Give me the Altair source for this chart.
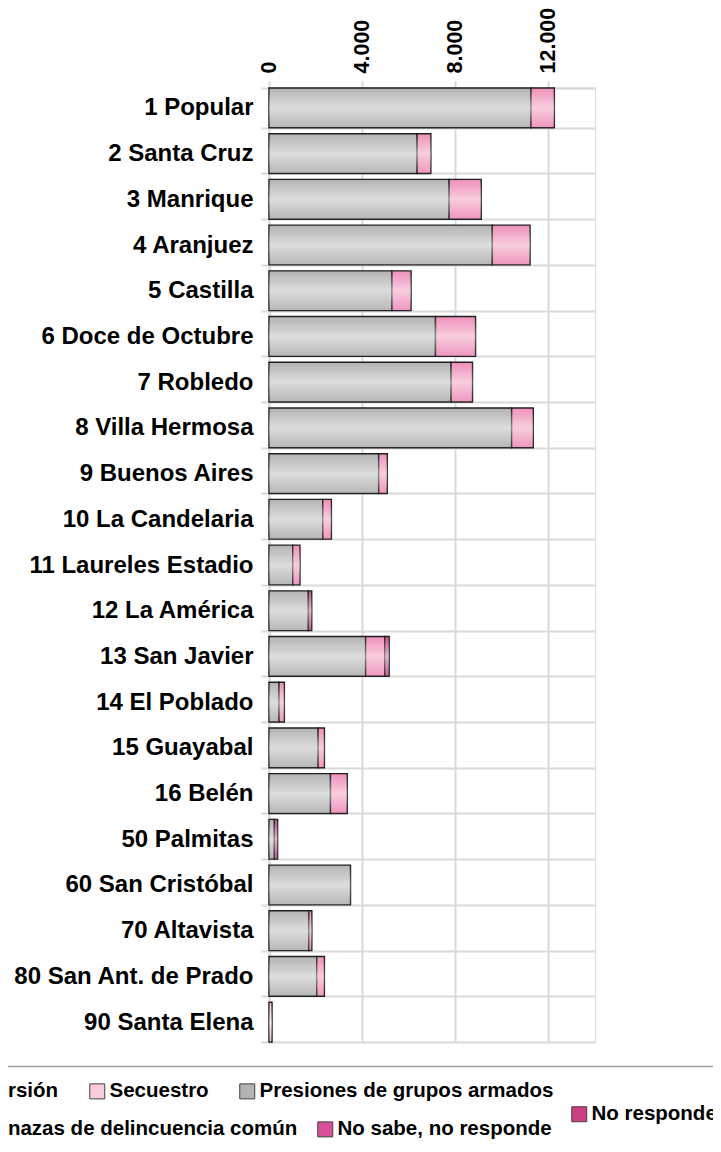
import altair as alt
import pandas as pd

comunas = ["1 Popular", "2 Santa Cruz", "3 Manrique", "4 Aranjuez", "5 Castilla",
           "6 Doce de Octubre", "7 Robledo", "8 Villa Hermosa", "9 Buenos Aires",
           "10 La Candelaria", "11 Laureles Estadio", "12 La América", "13 San Javier",
           "14 El Poblado", "15 Guayabal", "16 Belén", "50 Palmitas", "60 San Cristóbal",
           "70 Altavista", "80 San Ant. de Prado", "90 Santa Elena"]

series = ["Extorsión", "Secuestro", "Presiones de grupos armados",
          "Amenazas de delincuencia común", "No sabe, no responde", "No responde"]

extorsion = [0, 0, 0, 0, 0, 0, 0, 0, 0, 0, 0, 0, 0, 0, 0, 0, 0, 0, 0, 0, 0]
secuestro = [0, 0, 0, 0, 0, 0, 0, 0, 0, 0, 0, 0, 0, 0, 0, 0, 0, 0, 0, 0, 130]
presiones = [11250, 6360, 7735, 9590, 5280, 7150, 7820, 10420, 4710, 2310, 1020,
             1690, 4150, 430, 2110, 2640, 230, 3500, 1710, 2050, 0]
amenazas = [1005, 590, 1380, 1620, 820, 1720, 920, 930, 370, 370, 310,
            0, 820, 230, 270, 720, 0, 0, 130, 330, 0]
no_sabe = [0, 0, 0, 0, 0, 0, 0, 0, 0, 0, 0, 145, 190, 0, 0, 0, 140, 0, 0, 0, 0]
no_responde = [0, 0, 0, 0, 0, 0, 0, 0, 0, 0, 0, 0, 0, 0, 0, 0, 0, 0, 0, 0, 0]

colores = ["#8c8c8c", "#f8cbdd", "#b3b3b3", "#ef90b9", "#d9509a", "#cc3f80"]

valores = [extorsion, secuestro, presiones, amenazas, no_sabe, no_responde]
rows = []
for si, (s, vals) in enumerate(zip(series, valores)):
    for c, v in zip(comunas, vals):
        rows.append({"comuna": c, "serie": s, "orden": si, "valor": v})
df = pd.DataFrame(rows)

FONT = "Liberation Sans"
GRID = "#d9d9d9"

base = alt.Chart(df).transform_filter("datum.valor > 0").transform_stack(
    stack="valor", groupby=["comuna"], as_=["x0", "x1"],
    sort=[alt.SortField("orden", order="ascending")])

y_enc = alt.Y("comuna:N", sort=comunas,
              scale=alt.Scale(paddingInner=0.13, paddingOuter=0),
              axis=alt.Axis(title=None, grid=True, tickBand="extent",
                            gridColor=GRID, gridWidth=2,
                            ticks=True, tickSize=8, tickColor=GRID, tickWidth=2,
                            domainColor=GRID, domainWidth=2,
                            labelFont=FONT, labelFontSize=24, labelFontWeight="bold",
                            labelColor="black", labelPadding=8, labelLimit=400))
x_enc = alt.X("x0:Q", scale=alt.Scale(domain=[0, 14000], nice=False, zero=True),
              axis=alt.Axis(orient="top", title=None, values=[0, 4000, 8000, 12000],
                            labelExpr="replace(format(datum.value, ','), ',', '.')",
                            labelAngle=-90, grid=True, gridColor=GRID, gridWidth=2,
                            ticks=True, tickSize=7, tickColor=GRID, tickWidth=2,
                            domainColor=GRID, domainWidth=2,
                            labelFont=FONT, labelFontSize=21.5, labelFontWeight="bold",
                            labelColor="black", labelPadding=8))
x2_enc = alt.X2("x1:Q")

legend_common = dict(title=None, orient="none", direction="horizontal",
                     symbolType="square", symbolSize=225,
                     symbolStrokeColor="#404040", symbolStrokeWidth=1,
                     labelFont=FONT, labelFontSize=20.5, labelFontWeight="bold",
                     labelColor="black", labelLimit=600, labelOffset=2, padding=0)


def layer_for(idx, legend):
    names = [series[i] for i in idx]
    cols = [colores[i] for i in idx]
    return base.transform_filter(
        alt.FieldOneOfPredicate(field="serie", oneOf=names)
    ).mark_bar(stroke="#1e1e1e", strokeWidth=1.4).encode(
        x=x_enc, x2=x2_enc, y=y_enc,
        color=alt.Color("serie:N", scale=alt.Scale(domain=names, range=cols),
                        legend=legend))


layer_a = layer_for([0, 1, 2], alt.Legend(legendX=-328, legendY=993,
                                          columnPadding=28, **legend_common))
layer_b = layer_for([3, 4], alt.Legend(legendX=-328, legendY=1031,
                                       columnPadding=17, **legend_common))
layer_c = layer_for([5], alt.Legend(legendX=300, legendY=1016, **legend_common))

gloss = base.mark_bar(
    strokeWidth=0,
    fill=alt.LinearGradient(
        gradient="linear", x1=0, x2=0, y1=0, y2=1,
        stops=[alt.GradientStop(offset=0, color="rgba(255,255,255,0)"),
               alt.GradientStop(offset=0.5, color="rgba(255,255,255,0.55)"),
               alt.GradientStop(offset=1, color="rgba(255,255,255,0.05)")])
).encode(x=x_enc, x2=x2_enc, y=y_enc)

# top border of the legend box (its other sides lie outside the picture)
legend_border = alt.Chart(pd.DataFrame({"k": [0]})).mark_rule(
    color="#a0a0a0", strokeWidth=1.5
).encode(x=alt.value(-300), x2=alt.value(470), y=alt.value(978.5))

chart = alt.layer(layer_a, layer_b, layer_c, gloss, legend_border).resolve_scale(
    color="independent"
).properties(
    width=326, height=954,
    autosize=alt.AutoSizeParams(type="none"),
    padding={"left": 261, "top": 80, "right": 118, "bottom": 98},
    background="white",
).configure_view(stroke=GRID, strokeWidth=2).configure(font=FONT)

chart.save("out.html", embed_options={"renderer": "svg", "actions": False})
